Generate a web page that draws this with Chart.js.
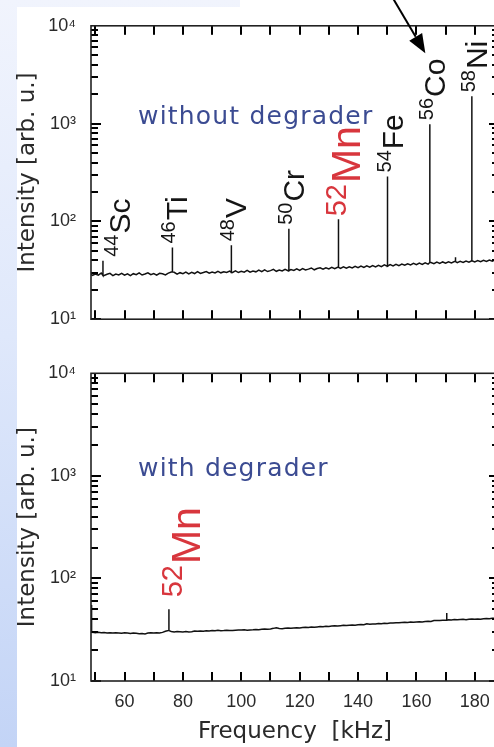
<!DOCTYPE html>
<html><head><meta charset="utf-8">
<script src="https://cdn.jsdelivr.net/npm/chart.js@4.4.1/dist/chart.umd.min.js"></script>
<style>
html,body{margin:0;padding:0;width:494px;height:747px;overflow:hidden;}
body{position:relative;background:linear-gradient(to bottom,#f1f4fd 0%,#dfe8fb 45%,#c3d4f6 100%);}
#paper{position:absolute;left:17px;top:7px;width:600px;height:760px;background:#fff;}
#paper2{position:absolute;left:240px;top:0;width:400px;height:10px;background:#fff;}
canvas{position:absolute;left:0;}
#c1{top:0;}
#c2{top:345px;}
</style></head><body>
<div id="paper"></div><div id="paper2"></div>
<canvas id="c1" width="520" height="345"></canvas>
<canvas id="c2" width="520" height="402"></canvas>
<script>
// ---------------- data ----------------
const freq = [
 48,49,50,51,52,53,54,55,56,57,
 58,59,60,61,62,63,64,65,66,67,
 68,69,70,71,72,73,74,75,76,77,
 78,79,80,81,82,83,84,85,86,87,
 88,89,90,91,92,93,94,95,96,97,
 98,99,100,101,102,103,104,105,106,107,
 108,109,110,111,112,113,114,115,116,117,
 118,119,120,121,122,123,124,125,126,127,
 128,129,130,131,132,133,134,135,136,137,
 138,139,140,141,142,143,144,145,146,147,
 148,149,150,151,152,153,154,155,156,157,
 158,159,160,161,162,163,164,165,166,167,
 168,169,170,171,172,173,174,175,176,177,
 178,179,180,181,182,183,184,185,186,187,
 188,189];
const intensityWithout = [
 29.3,28.1,28.9,28.2,29.6,28.0,28.8,29.4,27.9,28.9,
 28.4,29.5,28.2,29.1,27.9,29.2,28.5,29.7,28.3,29.0,
 29.8,28.5,29.3,28.2,29.5,29.1,28.4,29.6,30.4,30.2,
 28.9,29.9,29.2,30.3,29.0,30.1,29.3,30.6,29.4,30.0,
 30.7,29.5,30.4,29.7,30.9,29.8,30.6,30.0,31.0,30.1,
 31.2,30.0,30.9,30.3,31.5,30.2,31.1,30.5,31.7,30.6,
 31.9,30.7,31.4,32.3,30.9,31.8,31.1,32.4,31.3,32.2,
 31.5,32.7,31.6,32.9,31.9,32.5,33.4,32.0,33.0,33.5,
 32.4,33.6,32.7,33.9,32.8,33.9,33.0,34.3,33.2,34.4,
 33.4,34.7,33.6,34.9,33.8,35.1,34.0,35.3,34.3,35.6,
 34.5,35.9,34.8,36.2,35.1,36.4,35.3,36.7,35.6,36.9,
 35.9,37.2,36.1,37.5,36.4,37.7,36.6,38.0,36.9,38.3,
 37.2,38.5,37.4,38.7,37.7,38.8,37.9,39.0,38.1,39.3,
 38.3,39.6,38.5,39.7,38.7,40.0,38.9,40.2,39.2,40.5,
 39.4,40.6];
const intensityWith = [
 30.5,29.9,29.6,29.8,29.5,29.7,29.4,29.6,29.3,29.5,
 29.4,29.2,29.5,29.3,29.1,29.4,29.2,28.9,29.1,28.8,
 29.3,29.5,29.3,29.6,29.4,29.8,30.6,31.0,30.4,30.1,
 30.3,30.2,30.1,30.3,30.0,30.2,30.7,30.5,30.8,30.6,
 30.9,30.7,31.1,30.9,31.2,30.9,31.0,31.3,31.1,31.0,
 31.3,31.5,31.4,31.6,31.3,31.5,31.6,31.8,31.6,31.9,
 32.1,31.9,32.2,32.6,33.1,32.5,32.3,32.6,32.8,32.7,
 32.9,33.1,32.9,33.2,33.4,33.3,33.6,33.5,33.7,33.9,
 33.8,34.1,34.0,34.3,34.5,34.3,34.6,34.9,34.7,35.0,
 35.2,35.0,35.3,35.5,35.4,36.2,35.7,36.0,35.9,36.3,
 36.1,36.6,36.4,36.8,36.7,37.0,36.9,37.2,37.3,37.2,
 37.5,37.4,37.7,37.8,37.7,38.0,38.2,38.1,38.9,39.0,
 38.9,39.1,39.2,39.6,39.4,39.8,39.5,39.7,39.9,39.6,
 40.0,40.2,39.9,40.3,40.1,40.5,40.7,40.4,40.8,41.0,
 40.9,41.2];
// peaks (line spikes)
const peakFreqWithout   = [52.6, 76.4, 96.6, 116.3, 133.3, 150.1, 164.6, 179.0, 173.4];
const peakHeightWithout = [39.5, 54, 57, 84, 105, 288, 986, 1900, 43];
const peakMass    = ['44','46','48','50','52','54','56','58'];
const peakElement = ['Sc','Ti','V','Cr','Mn','Fe','Co','Ni'];
const peakFreqWith   = [48.7, 75.2, 170.4];
const peakHeightWith = [55, 50, 46];
const withLabelMass = ['','52',''];
const withLabelElement = ['','Mn',''];
// axes
const yTickValues = [10, 100, 1000, 10000];
const yTickLabels = ['10\u00B9','10\u00B2','10\u00B3','10\u2074'];
const xTickValues = [60, 80, 100, 120, 140, 160, 180];
const xMinorTicks = [50, 60, 70, 80, 90, 100, 110, 120, 130, 140, 150, 160, 170, 180];
const yMinorMultipliers = [1, 2, 3, 4, 5, 6, 7, 8, 9];
const panelTitles = ['without degrader', 'with degrader'];
const yTitle = 'Intensity [arb. u.]';
const xTitle = 'Frequency  [kHz]';

// ---------------- helpers ----------------
function buildSeries(base, pf, ph) {
  const pts = freq.map((f, i) => ({x: f, y: base[i]}));
  pf.forEach((f, k) => {
    let j = 0, best = Infinity;
    freq.forEach((g, i) => { const d = Math.abs(g - f); if (d < best) { best = d; j = i; } });
    const b = base[j];
    pts.push({x: f, y: b}, {x: f, y: ph[k]}, {x: f, y: b});
  });
  return pts.sort((a, b) => a.x - b.x);
}

const TICK_FONT = {family: 'Liberation Sans, Arial, sans-serif', size: 18};
const TITLE_FONT = {family: 'DejaVu Sans, sans-serif', size: 23};
const INK = '#2a2a2a';
const RED = '#d8363d';
const BLUE = '#3b4b92';

const styleNormal = {sup: '20px "Liberation Sans", Arial, sans-serif', main: '30px "Liberation Sans", Arial, sans-serif', raise: 12, dx: 15, dy: 4, color: '#151515', gap: 1};
const styleMnTop = {sup: '29px "Liberation Sans", Arial, sans-serif', main: '41px "Liberation Sans", Arial, sans-serif', raise: 14, dx: 22, dy: 3, color: RED, gap: 1};
const styleMnBottom = Object.assign({}, styleMnTop, {raise: 18, dx: 31, dy: 12});
const labelShift = {Sc: 12};

function drawIsotope(ctx, x, y, mass, el, st, shift) {
  ctx.save();
  ctx.translate(x + st.dx + (shift || 0), y - st.dy);
  ctx.rotate(-Math.PI / 2);
  ctx.fillStyle = st.color;
  ctx.textBaseline = 'alphabetic';
  ctx.textAlign = 'left';
  ctx.font = st.sup;
  ctx.fillText(mass, 0, -st.raise);
  const w = ctx.measureText(mass).width;
  ctx.font = st.main;
  ctx.fillText(el, w + st.gap, 0);
  ctx.restore();
}

const decor = {
  id: 'decor',
  afterDraw(chart, args, opts) {
    const ctx = chart.ctx, a = chart.chartArea;
    const xs = chart.scales.x, ys = chart.scales.y;
    ctx.save();
    ctx.fillStyle = '#000';
    xMinorTicks.forEach(v => {
      const px = Math.round(xs.getPixelForValue(v));
      ctx.fillRect(px - 1, a.bottom - 9, 2, 9);
      ctx.fillRect(px - 1, a.top, 2, 9);
    });
    yTickValues.slice(0, 3).forEach(d => {
      yMinorMultipliers.forEach(m => {
        const py = Math.round(ys.getPixelForValue(m * d));
        const len = m === 1 ? 10 : 7;
        ctx.fillRect(a.left, py - 1, len, 2);
        ctx.fillRect(a.right - len, py - 1, len, 2);
      });
    });
    ctx.strokeStyle = '#222';
    ctx.lineWidth = 1.6;
    ctx.strokeRect(a.left, a.top, a.right - a.left, a.bottom - a.top);
    // panel title
    ctx.fillStyle = BLUE;
    ctx.font = '25px "DejaVu Sans", sans-serif';
    try { ctx.letterSpacing = '1.2px'; } catch (e) {}
    ctx.textBaseline = 'alphabetic';
    ctx.textAlign = 'left';
    ctx.fillText(opts.title, xs.getPixelForValue(64.6), ys.getPixelForValue(1000));
    try { ctx.letterSpacing = '0px'; } catch (e) {}
    // isotope labels
    opts.labels.forEach(l => {
      if (!l.el) return;
      const px = xs.getPixelForValue(l.f), py = ys.getPixelForValue(l.h);
      drawIsotope(ctx, px, py, l.mass, l.el, l.style, (labelShift[l.el] && opts.top) ? labelShift[l.el] : 0);
    });
    // arrow pointing at 56Co
    if (opts.arrowTo) {
      const px = xs.getPixelForValue(opts.arrowTo.f) - 4.5;
      const py = ys.getPixelForValue(opts.arrowTo.h) - 71;
      const sx = px - 33, sy = py - 56;
      const ang = Math.atan2(py - sy, px - sx);
      const hl = 19, hw = 7.5;
      const bx = px - hl * Math.cos(ang), by = py - hl * Math.sin(ang);
      ctx.strokeStyle = '#000'; ctx.fillStyle = '#000'; ctx.lineWidth = 2;
      ctx.beginPath(); ctx.moveTo(sx, sy); ctx.lineTo(bx, by); ctx.stroke();
      ctx.beginPath();
      ctx.moveTo(px, py);
      ctx.lineTo(bx + hw * Math.sin(ang), by - hw * Math.cos(ang));
      ctx.lineTo(bx - hw * Math.sin(ang), by + hw * Math.cos(ang));
      ctx.closePath(); ctx.fill();
    }
    ctx.restore();
  }
};

function makeChart(id, series, cfg) {
  return new Chart(document.getElementById(id), {
    type: 'line',
    data: {datasets: [{data: series, borderColor: '#111', borderWidth: 1.5, pointRadius: 0, tension: 0, fill: false}]},
    options: {
      responsive: false, animation: false, devicePixelRatio: 1,
      layout: {padding: {left: 0, right: 21, top: cfg.padTop, bottom: 0}},
      plugins: {legend: {display: false}, tooltip: {enabled: false}, decor: cfg.decor},
      scales: {
        x: {
          type: 'linear', min: 48.5, max: 188.3,
          grid: {display: false, drawTicks: false}, border: {display: false},
          afterBuildTicks: s => { s.ticks = xTickValues.map(v => ({value: v})); },
          afterFit: s => { s.height = cfg.xHeight; },
          ticks: {display: cfg.showX, font: TICK_FONT, color: INK, padding: 10.5, maxRotation: 0, autoSkip: false},
          title: {display: cfg.showX, text: xTitle, font: TITLE_FONT, color: INK, padding: {top: 0, bottom: 1.2}}
        },
        y: {
          type: 'logarithmic', min: 10, max: 10000,
          grid: {display: false, drawTicks: false}, border: {display: false},
          afterBuildTicks: s => { s.ticks = yTickValues.map(v => ({value: v})); },
          afterFit: s => { s.width = 91; },
          ticks: {font: TICK_FONT, color: INK, padding: 15, callback: (v, i) => yTickLabels[i]},
          title: {display: true, text: yTitle, font: TITLE_FONT, color: INK, padding: {top: 14.5, bottom: 0}}
        }
      }
    },
    plugins: [decor]
  });
}

const topLabels = peakFreqWithout.map((f, i) => ({
  f, h: peakHeightWithout[i], mass: peakMass[i] || '', el: peakElement[i] || '',
  style: peakElement[i] === 'Mn' ? styleMnTop : styleNormal
}));
const botLabels = peakFreqWith.map((f, i) => ({
  f, h: peakHeightWith[i], mass: withLabelMass[i], el: withLabelElement[i], style: styleMnBottom
}));

makeChart('c1', buildSeries(intensityWithout, peakFreqWithout, peakHeightWithout), {
  padTop: 19.7, xHeight: 16.3, showX: false,
  decor: {title: panelTitles[0], labels: topLabels, top: true, arrowTo: {f: peakFreqWithout[6], h: peakHeightWithout[6]}}
});
makeChart('c2', buildSeries(intensityWith, peakFreqWith, peakHeightWith), {
  padTop: 28.3, xHeight: 66, showX: true,
  decor: {title: panelTitles[1], labels: botLabels, top: false, arrowTo: null}
});
</script>
</body></html>
